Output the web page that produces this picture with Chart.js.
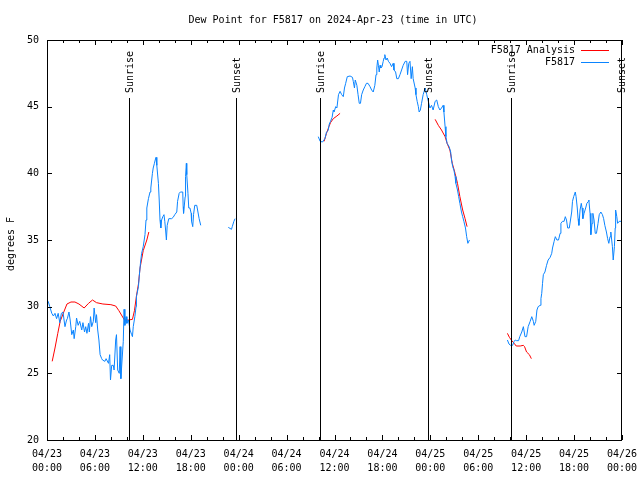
<!DOCTYPE html>
<html>
<head>
<meta charset="utf-8">
<script src="https://cdn.jsdelivr.net/npm/chart.js@4/dist/chart.umd.min.js"></script>
<style>
    html, body { margin: 0; padding: 0; background: #fff; }
    #wrap { width: 640px; height: 480px; }
</style>
</head>
<body>
<div id="wrap"><canvas id="dewChart" width="640" height="480"></canvas></div>
<script>
// hours since 04/23 00:00 UTC, dew point in degrees F (null breaks the line)
const observed = [
    [0.0, 30.4], [0.15, 30.4], [0.35, 30.0], [0.6, 29.5], [0.8, 29.3], [1.0, 29.5], [1.2, 29.1], [1.4, 29.5],
    [1.6, 28.8], [1.8, 29.5], [2.0, 29.6], [2.25, 28.5], [2.45, 29.0], [2.55, 29.1], [2.75, 29.6], [2.9, 29.0],
    [3.1, 27.9], [3.3, 28.25], [3.4, 27.6], [3.6, 28.5], [3.7, 29.15], [3.9, 28.6], [4.1, 28.9], [4.35, 28.25],
    [4.5, 28.8], [4.7, 28.1], [4.85, 28.5], [5.0, 28.0], [5.2, 28.75], [5.3, 28.1], [5.45, 29.25], [5.6, 28.5],
    [5.8, 28.9], [5.9, 29.9], [6.1, 28.8], [6.2, 29.4], [6.35, 28.25], [6.5, 27.5], [6.65, 26.4], [6.85, 26.1],
    [6.95, 26.0], [7.25, 25.9], [7.4, 26.1], [7.7, 25.75], [7.85, 26.4], [7.95, 24.5], [8.1, 25.6], [8.3, 25.6],
    [8.4, 25.25], [8.6, 27.5], [8.7, 27.9], [8.85, 25.25], [9.05, 25.0], [9.15, 27.0], [9.25, 24.6], [9.4, 26.0],
    [9.55, 27.4], [9.65, 29.8], [9.75, 28.6], [9.9, 29.25], [10.0, 28.75], [10.2, 29.0], [10.4, 28.25], [10.6, 27.9],
    [10.7, 27.75], [10.8, 28.5], [11.0, 29.25], [11.15, 30.0], [11.2, 30.75], [11.45, 31.5], [11.55, 32.25], [11.7, 33.25],
    [11.85, 34.0], [12.05, 34.5], [12.27, 35.4], [12.4, 36.5], [12.5, 37.4], [12.7, 38.1], [12.9, 38.6], [13.0, 38.9],
    [13.2, 40.0], [13.3, 40.4], [13.45, 40.75], [13.55, 41.0], [13.65, 41.2], [13.75, 40.6], [13.95, 39.25], [14.05, 38.0],
    [14.15, 36.5], [14.25, 35.9], [14.35, 36.5], [14.5, 36.75], [14.65, 36.9], [14.75, 36.4], [14.85, 35.75], [14.95, 35.0],
    [15.05, 36.1], [15.25, 36.6], [15.6, 36.6], [15.8, 36.7], [16.0, 36.9], [16.25, 37.1], [16.35, 37.9], [16.55, 38.5],
    [16.7, 38.6], [17.0, 38.6], [17.05, 37.5], [17.1, 37.0], [17.3, 38.25], [17.35, 39.75], [17.45, 40.75], [17.5, 39.9],
    [17.65, 38.5], [17.75, 37.4], [17.9, 37.4], [18.05, 37.0], [18.1, 36.4], [18.25, 36.0], [18.35, 36.9], [18.5, 37.6],
    [18.75, 37.6], [18.9, 37.1], [19.05, 36.6], [19.25, 36.1],
    [21.0, null],
    [22.7, 35.95], [23.1, 35.8], [23.2, 36.0], [23.4, 36.4], [23.55, 36.6],
    [28.0, null],
    [33.97, 42.75], [34.2, 42.4], [34.5, 42.35], [34.8, 42.6], [35.0, 43.1], [35.2, 43.2], [35.35, 43.7], [35.5, 43.9],
    [35.7, 44.2], [35.85, 44.75], [35.95, 44.6], [36.15, 45.0], [36.3, 44.9], [36.5, 45.9], [36.7, 46.15], [36.9, 45.9],
    [37.1, 45.75], [37.25, 46.4], [37.4, 46.75], [37.6, 47.25], [37.95, 47.3], [38.25, 47.2], [38.35, 46.9], [38.5, 46.4],
    [38.6, 47.0], [38.8, 46.6], [38.95, 45.9], [39.1, 45.25], [39.25, 45.25], [39.4, 45.9], [39.6, 46.25], [39.8, 46.5],
    [40.0, 46.75], [40.2, 46.75], [40.45, 46.5], [40.65, 46.25], [40.85, 46.1], [41.05, 46.6], [41.2, 47.4], [41.3, 47.9],
    [41.4, 48.5], [41.5, 48.1], [41.6, 47.6], [41.7, 48.1], [41.8, 47.9], [41.95, 48.0], [42.1, 48.4], [42.2, 48.65],
    [42.3, 48.9], [42.45, 48.5], [42.6, 48.65], [42.75, 48.4], [42.95, 48.25], [43.15, 48.0], [43.35, 48.25], [43.45, 47.75],
    [43.65, 47.6], [43.8, 47.1], [44.0, 47.1], [44.2, 47.4], [44.4, 47.75], [44.6, 48.1], [44.85, 48.4], [45.05, 48.4],
    [45.15, 47.4], [45.3, 48.25], [45.45, 48.4], [45.6, 47.1], [45.75, 48.0], [45.85, 47.1], [46.1, 46.4], [46.2, 45.9],
    [46.35, 45.4], [46.5, 45.0], [46.6, 44.6], [46.75, 44.75], [46.9, 45.25], [47.1, 45.9], [47.35, 46.4], [47.55, 45.9],
    [47.75, 45.4], [47.95, 44.9], [48.15, 45.1], [48.35, 44.75], [48.6, 45.4], [48.8, 45.5], [49.0, 45.0], [49.2, 44.75],
    [49.4, 44.9], [49.6, 45.1], [49.7, 44.6], [49.85, 43.5], [49.95, 42.75], [50.1, 42.25], [50.35, 42.0], [50.55, 41.6],
    [50.65, 41.0], [50.8, 40.5], [50.95, 40.25], [51.1, 39.75], [51.2, 39.25], [51.4, 38.75], [51.55, 38.25], [51.7, 37.75],
    [51.9, 37.1], [52.05, 36.75], [52.2, 36.4], [52.4, 35.9], [52.55, 35.25], [52.7, 34.75], [52.9, 35.0],
    [55.0, null],
    [57.65, 27.5], [57.85, 27.2], [58.05, 27.1], [58.3, 27.1], [58.5, 27.4], [58.65, 27.5], [58.8, 27.45], [59.05, 27.45],
    [59.2, 27.75], [59.45, 28.1], [59.65, 28.5], [59.85, 27.75], [60.05, 27.75], [60.25, 28.5], [60.5, 28.9], [60.7, 29.25],
    [60.9, 28.9], [61.0, 28.6], [61.2, 28.9], [61.35, 29.75], [61.5, 30.0], [61.75, 30.1], [61.85, 30.6], [61.95, 31.0],
    [62.05, 31.75], [62.15, 32.4], [62.35, 32.6], [62.55, 33.1], [62.75, 33.5], [63.0, 33.7], [63.2, 34.0], [63.3, 34.4],
    [63.5, 34.9], [63.65, 35.25], [63.85, 35.0], [64.05, 35.0], [64.25, 35.5], [64.35, 36.25], [64.55, 36.4], [64.75, 36.4],
    [64.9, 36.75], [65.05, 36.5], [65.2, 35.9], [65.4, 35.9], [65.55, 36.5], [65.7, 37.1], [65.8, 37.9], [65.95, 38.25],
    [66.15, 38.6], [66.25, 38.25], [66.4, 37.4], [66.5, 36.6], [66.6, 36.1], [66.75, 37.25], [66.9, 37.75], [67.0, 37.4],
    [67.1, 36.6], [67.25, 37.0], [67.45, 37.4], [67.6, 37.75], [67.8, 37.9], [67.85, 38.0], [68.0, 37.0], [68.1, 35.4],
    [68.25, 36.25], [68.35, 37.0], [68.5, 36.5], [68.65, 35.5], [68.8, 35.5], [69.0, 36.25], [69.15, 36.9], [69.35, 37.1],
    [69.55, 36.9], [69.7, 36.6], [69.85, 36.1], [70.05, 35.6], [70.2, 35.1], [70.35, 34.75], [70.5, 35.25], [70.6, 35.6],
    [70.8, 34.5], [70.9, 33.5], [71.05, 34.5], [71.15, 35.9], [71.2, 37.25], [71.35, 36.75], [71.45, 36.25], [71.65, 36.4],
    [71.9, 36.4]
];

const analysis = [
    [0.65, 25.9], [1.0, 26.9], [1.35, 28.0], [1.65, 28.9], [2.1, 29.6], [2.5, 30.2], [3.0, 30.35], [3.5, 30.35],
    [4.0, 30.2], [4.65, 29.9], [5.2, 30.25], [5.7, 30.5], [6.2, 30.3], [7.0, 30.2], [8.0, 30.15], [8.6, 30.05],
    [9.0, 29.7], [9.4, 29.3], [9.7, 29.0], [10.2, 29.0], [10.7, 29.05], [10.95, 29.7], [11.2, 30.8], [11.45, 31.7],
    [11.65, 32.9], [12.05, 34.2], [12.5, 35.0], [12.75, 35.6],
    [20.0, null],
    [34.7, 42.4], [35.0, 43.0], [35.3, 43.5], [35.5, 43.8], [35.85, 44.1], [36.3, 44.3], [36.7, 44.5],
    [42.0, null],
    [48.6, 44.05], [49.0, 43.6], [49.4, 43.25], [49.85, 42.75], [50.1, 42.25], [50.45, 41.75], [50.75, 40.75], [51.1, 40.0],
    [51.4, 39.25], [51.7, 38.25], [52.05, 37.25], [52.35, 36.6], [52.6, 36.0],
    [55.0, null],
    [57.65, 28.0], [57.9, 27.7], [58.2, 27.45], [58.5, 27.25], [58.75, 27.05], [59.25, 27.05], [59.65, 27.1], [59.8, 27.0],
    [60.05, 26.6], [60.4, 26.4], [60.65, 26.1]
];

const sunHours = [10.27, 23.67, 34.18, 47.71, 58.1, 71.87];
const sunLabels = ['Sunrise', 'Sunset', 'Sunrise', 'Sunset', 'Sunrise', 'Sunset'];

const dayLabels = ['04/23', '04/23', '04/23', '04/23', '04/24', '04/24', '04/24', '04/24', '04/25', '04/25', '04/25', '04/25', '04/26'];
const timeLabels = ['00:00', '06:00', '12:00', '18:00', '00:00', '06:00', '12:00', '18:00', '00:00', '06:00', '12:00', '18:00', '00:00'];
const yTicks = [20, 25, 30, 35, 40, 45, 50];

const seriesNames = ['F5817 Analysis', 'F5817'];
const seriesColors = ['#ff0000', '#0a84ff'];

const FONT = '10px "DejaVu Sans Mono", monospace';

function toXY(list)
{
    return list.map(p => ({ x: p[0], y: p[1] }));
}

// gnuplot-ish frame, inward ticks, sunrise/sunset lines, title and legend
const gnuplotDecor = {
    id: 'gnuplotDecor',
    afterDatasetsDraw(chart)
    {
        const { ctx, chartArea: { left, right, top, bottom } } = chart;
        const xs = chart.scales.x;
        const ys = chart.scales.y;

        ctx.save();
        ctx.strokeStyle = '#000';
        ctx.lineWidth = 1;

        // sunrise / sunset markers
        sunHours.forEach((h, i) =>
        {
            const px = Math.round(xs.getPixelForValue(h)) + 0.5;
            ctx.beginPath();
            ctx.moveTo(px, 98);
            ctx.lineTo(px, bottom);
            ctx.stroke();

            ctx.save();
            ctx.translate(px + 1, 93);
            ctx.rotate(-Math.PI / 2);
            ctx.font = FONT;
            ctx.fillStyle = '#000';
            ctx.textAlign = 'left';
            ctx.textBaseline = 'middle';
            ctx.fillText(sunLabels[i], 0, 0);
            ctx.restore();
        });

        // frame
        ctx.strokeRect(left + 0.5, top + 0.5, right - left - 1, bottom - top);

        // x ticks, major every 6h, minor every 2h
        ctx.beginPath();
        for (let h = 0; h <= 72; h += 2)
        {
            const px = Math.round(xs.getPixelForValue(h)) + 0.5;
            const len = h % 6 === 0 ? 5 : 3;
            ctx.moveTo(px, bottom);
            ctx.lineTo(px, bottom - len);
            ctx.moveTo(px, top);
            ctx.lineTo(px, top + len);
        }
        // y ticks
        yTicks.forEach(v =>
        {
            const py = Math.round(ys.getPixelForValue(v)) + 0.5;
            ctx.moveTo(left, py);
            ctx.lineTo(left + 5, py);
            ctx.moveTo(right, py);
            ctx.lineTo(right - 5, py);
        });
        ctx.stroke();

        // title
        ctx.font = FONT;
        ctx.fillStyle = '#000';
        ctx.textAlign = 'center';
        ctx.textBaseline = 'middle';
        ctx.fillText('Dew Point for F5817 on 2024-Apr-23 (time in UTC)', 333, 20);

        // y axis title
        ctx.save();
        ctx.translate(11, 244);
        ctx.rotate(-Math.PI / 2);
        ctx.fillText('degrees F', 0, 0);
        ctx.restore();

        // legend
        seriesNames.forEach((name, i) =>
        {
            const ly = 50 + i * 12;
            ctx.textAlign = 'right';
            ctx.fillStyle = '#000';
            ctx.fillText(name, 575, ly);
            ctx.strokeStyle = seriesColors[i];
            ctx.beginPath();
            ctx.moveTo(581, ly + 0.5);
            ctx.lineTo(609, ly + 0.5);
            ctx.stroke();
        });

        ctx.restore();
    }
};

const ctx = document.getElementById('dewChart').getContext('2d');

new Chart(ctx, {
    type: 'line',
    data: {
        datasets: [
            {
                label: seriesNames[1],
                data: toXY(observed),
                borderColor: seriesColors[1],
                borderWidth: 1,
                pointRadius: 0,
                tension: 0,
                spanGaps: false
            },
            {
                label: seriesNames[0],
                data: toXY(analysis),
                borderColor: seriesColors[0],
                borderWidth: 1,
                pointRadius: 0,
                tension: 0,
                spanGaps: false
            }
        ]
    },
    options: {
        responsive: false,
        animation: false,
        layout: { padding: { top: 40, right: 18, left: 0, bottom: 0 } },
        plugins: {
            legend: { display: false },
            title: { display: false },
            tooltip: { enabled: false }
        },
        scales: {
            x: {
                type: 'linear',
                min: 0,
                max: 72,
                grid: { display: false, drawTicks: false },
                border: { display: false },
                afterBuildTicks: scale =>
                {
                    scale.ticks = timeLabels.map((t, i) => ({ value: i * 6 }));
                },
                afterFit: scale =>
                {
                    scale.height = 40;
                    scale.paddingLeft = 0;
                    scale.paddingRight = 0;
                },
                ticks: {
                    autoSkip: false,
                    maxRotation: 0,
                    padding: 7,
                    color: '#000',
                    font: { family: '"DejaVu Sans Mono", monospace', size: 10, lineHeight: 1.4 },
                    callback: (value) =>
                    {
                        const i = Math.round(value / 6);
                        return [dayLabels[i], timeLabels[i]];
                    }
                }
            },
            y: {
                min: 20,
                max: 50,
                grid: { display: false, drawTicks: false },
                border: { display: false },
                afterBuildTicks: scale =>
                {
                    scale.ticks = yTicks.map(v => ({ value: v }));
                },
                afterFit: scale =>
                {
                    scale.width = 47;
                    scale.paddingTop = 0;
                    scale.paddingBottom = 0;
                },
                ticks: {
                    padding: 8,
                    color: '#000',
                    font: { family: '"DejaVu Sans Mono", monospace', size: 10 }
                }
            }
        }
    },
    plugins: [gnuplotDecor]
});
</script>
</body>
</html>
